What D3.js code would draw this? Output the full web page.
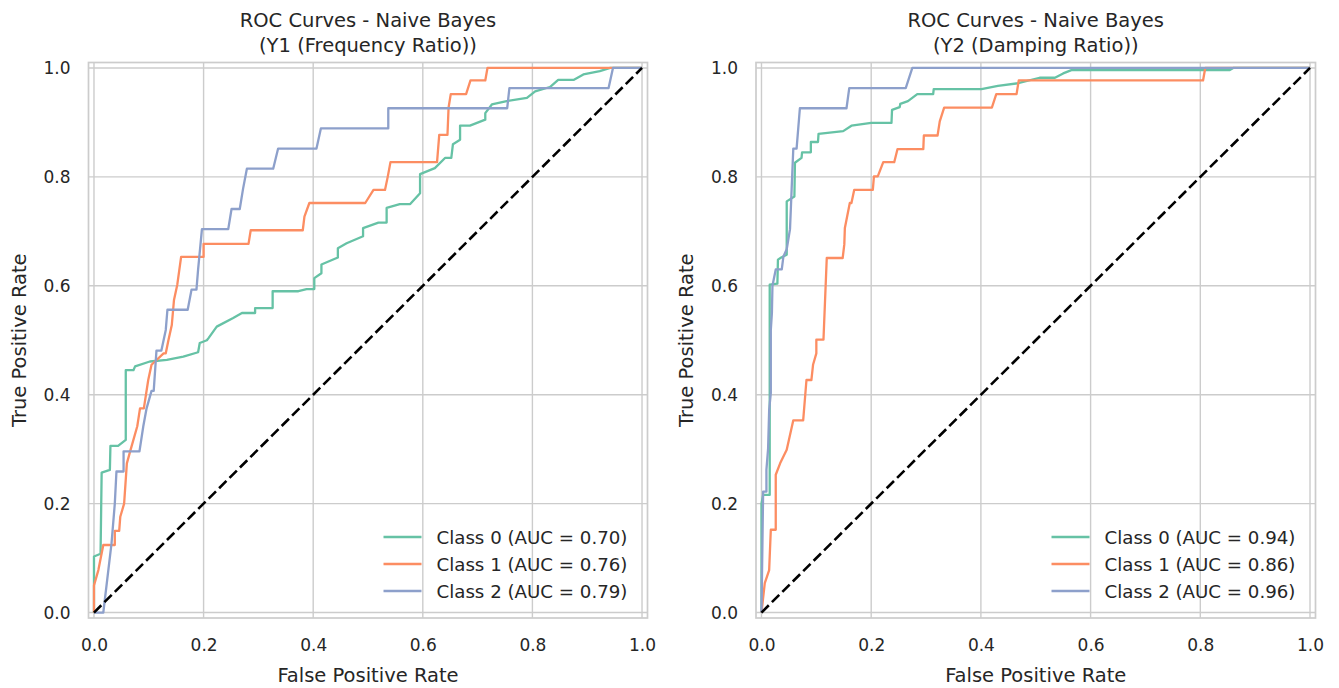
<!DOCTYPE html>
<html>
<head>
<meta charset="utf-8">
<script src="https://cdn.jsdelivr.net/npm/d3@7"></script>
<style>
  html, body { margin: 0; padding: 0; background: #ffffff; }
  svg { display: block; }
  text { font-family: "DejaVu Sans", sans-serif; fill: #262626; }
</style>
</head>
<body>
<svg id="chart" width="1339" height="688"></svg>
<script>
// ---------------- DATA ----------------
const tickValues = [0.0, 0.2, 0.4, 0.6, 0.8, 1.0];
const classNames = ["Class 0", "Class 1", "Class 2"];
const classColors = ["#66c2a5", "#fc8d62", "#8da0cb"];
const chartTitles = ["ROC Curves - Naive Bayes\n(Y1 (Frequency Ratio))", "ROC Curves - Naive Bayes\n(Y2 (Damping Ratio))"];
const y1Auc = [0.70, 0.76, 0.79];
const y2Auc = [0.94, 0.86, 0.96];

// Y1 (Frequency Ratio)
const y1Class0Fpr = [0, 0, 0.012, 0.014, 0.029, 0.030, 0.044, 0.058, 0.058, 0.072, 0.075, 0.102, 0.133, 0.163, 0.190, 0.193, 0.206, 0.209, 0.224, 0.254, 0.270, 0.294, 0.294, 0.326, 0.326, 0.373, 0.388, 0.402, 0.402, 0.415, 0.415, 0.445, 0.445, 0.461, 0.491, 0.491, 0.519, 0.534, 0.534, 0.558, 0.577, 0.595, 0.595, 0.622, 0.641, 0.652, 0.655, 0.668, 0.668, 0.686, 0.714, 0.714, 0.726, 0.753, 0.790, 0.805, 0.832, 0.847, 0.875, 0.893, 0.923, 0.942, 1.0];
const y1Class0Tpr = [0, 0.103, 0.108, 0.257, 0.262, 0.306, 0.306, 0.317, 0.445, 0.445, 0.452, 0.461, 0.464, 0.470, 0.478, 0.495, 0.500, 0.504, 0.525, 0.541, 0.550, 0.550, 0.559, 0.559, 0.590, 0.590, 0.594, 0.594, 0.614, 0.623, 0.639, 0.652, 0.669, 0.678, 0.691, 0.706, 0.716, 0.716, 0.743, 0.750, 0.750, 0.770, 0.805, 0.816, 0.835, 0.835, 0.860, 0.868, 0.894, 0.894, 0.905, 0.917, 0.933, 0.939, 0.945, 0.957, 0.965, 0.978, 0.978, 0.988, 0.994, 1.0, 1.0];
const y1Class1Fpr = [0, 0, 0.008, 0.017, 0.038, 0.038, 0.046, 0.048, 0.055, 0.060, 0.066, 0.079, 0.084, 0.091, 0.099, 0.105, 0.127, 0.131, 0.136, 0.142, 0.146, 0.152, 0.159, 0.200, 0.200, 0.282, 0.286, 0.381, 0.384, 0.393, 0.495, 0.510, 0.531, 0.536, 0.541, 0.626, 0.630, 0.645, 0.647, 0.651, 0.679, 0.687, 0.714, 0.718, 1.0];
const y1Class1Tpr = [0, 0.050, 0.078, 0.124, 0.124, 0.150, 0.150, 0.176, 0.200, 0.274, 0.296, 0.342, 0.375, 0.375, 0.427, 0.455, 0.476, 0.476, 0.501, 0.528, 0.574, 0.602, 0.653, 0.653, 0.677, 0.677, 0.702, 0.702, 0.727, 0.752, 0.752, 0.776, 0.776, 0.800, 0.827, 0.827, 0.877, 0.877, 0.927, 0.952, 0.952, 0.977, 0.977, 1.0, 1.0];
const y1Class2Fpr = [0, 0.017, 0.032, 0.038, 0.041, 0.054, 0.054, 0.083, 0.090, 0.096, 0.105, 0.109, 0.114, 0.123, 0.131, 0.134, 0.171, 0.178, 0.187, 0.190, 0.197, 0.245, 0.251, 0.266, 0.272, 0.279, 0.327, 0.336, 0.406, 0.414, 0.537, 0.537, 0.754, 0.758, 0.939, 0.947, 1.0];
const y1Class2Tpr = [0, 0, 0.127, 0.200, 0.259, 0.259, 0.296, 0.296, 0.342, 0.375, 0.407, 0.407, 0.481, 0.481, 0.519, 0.556, 0.556, 0.593, 0.593, 0.630, 0.704, 0.704, 0.741, 0.741, 0.778, 0.815, 0.815, 0.852, 0.852, 0.889, 0.889, 0.926, 0.926, 0.963, 0.963, 1.0, 1.0];

// Y2 (Damping Ratio)
const y2Class0Fpr = [0, 0, 0.003, 0.015, 0.015, 0.029, 0.030, 0.036, 0.046, 0.046, 0.060, 0.061, 0.073, 0.074, 0.090, 0.090, 0.103, 0.104, 0.149, 0.164, 0.200, 0.237, 0.238, 0.252, 0.253, 0.267, 0.284, 0.313, 0.314, 0.401, 0.431, 0.468, 0.507, 0.535, 0.550, 0.565, 0.853, 0.860, 1.0];
const y2Class0Tpr = [0, 0.200, 0.216, 0.216, 0.602, 0.604, 0.648, 0.652, 0.657, 0.755, 0.764, 0.826, 0.835, 0.845, 0.845, 0.864, 0.864, 0.879, 0.884, 0.894, 0.899, 0.899, 0.923, 0.928, 0.934, 0.939, 0.952, 0.952, 0.961, 0.961, 0.967, 0.972, 0.982, 0.982, 0.990, 0.996, 0.996, 1.0, 1.0];
const y2Class1Fpr = [0, 0.006, 0.014, 0.017, 0.026, 0.026, 0.034, 0.046, 0.058, 0.076, 0.082, 0.091, 0.094, 0.100, 0.100, 0.113, 0.119, 0.148, 0.151, 0.152, 0.161, 0.164, 0.169, 0.203, 0.205, 0.212, 0.222, 0.242, 0.248, 0.295, 0.296, 0.321, 0.325, 0.333, 0.420, 0.428, 0.465, 0.469, 0.805, 0.809, 1.0];
const y2Class1Tpr = [0, 0.054, 0.078, 0.152, 0.152, 0.253, 0.274, 0.299, 0.353, 0.353, 0.427, 0.427, 0.455, 0.476, 0.501, 0.501, 0.651, 0.651, 0.676, 0.706, 0.752, 0.752, 0.776, 0.776, 0.801, 0.801, 0.827, 0.827, 0.851, 0.851, 0.876, 0.876, 0.902, 0.927, 0.927, 0.952, 0.952, 0.977, 0.977, 1.0, 1.0];
const y2Class2Fpr = [0, 0.003, 0.009, 0.009, 0.012, 0.014, 0.017, 0.017, 0.019, 0.020, 0.026, 0.037, 0.040, 0.046, 0.052, 0.055, 0.058, 0.064, 0.070, 0.155, 0.160, 0.263, 0.275, 1.0];
const y2Class2Tpr = [0, 0.222, 0.222, 0.262, 0.300, 0.372, 0.403, 0.519, 0.550, 0.600, 0.630, 0.630, 0.654, 0.667, 0.704, 0.778, 0.852, 0.852, 0.926, 0.926, 0.963, 0.963, 1.0, 1.0];

// ---------------- BUILD ----------------
const zip = (a, b) => a.map((v, i) => [v, b[i]]);
const panels = [
  { title: chartTitles[0], auc: y1Auc, left: 88.5, right: 647.5,
    curves: [zip(y1Class0Fpr, y1Class0Tpr), zip(y1Class1Fpr, y1Class1Tpr), zip(y1Class2Fpr, y1Class2Tpr)] },
  { title: chartTitles[1], auc: y2Auc, left: 756, right: 1315.5,
    curves: [zip(y2Class0Fpr, y2Class0Tpr), zip(y2Class1Fpr, y2Class1Tpr), zip(y2Class2Fpr, y2Class2Tpr)] }
];
const plotTop = 62.5, plotBottom = 618;
const svg = d3.select("#chart");
const gridColor = "#cccccc";

panels.forEach(p => {
  const x = d3.scaleLinear().domain([-0.01, 1.01]).range([p.left, p.right]);
  const y = d3.scaleLinear().domain([-0.01, 1.01]).range([plotBottom, plotTop]);
  const g = svg.append("g");
  const cx = (p.left + p.right) / 2;

  // grid
  g.selectAll(".gx").data(tickValues).join("line")
    .attr("x1", d => x(d)).attr("x2", d => x(d)).attr("y1", plotTop).attr("y2", plotBottom)
    .attr("stroke", gridColor).attr("stroke-width", 1.4);
  g.selectAll(".gy").data(tickValues).join("line")
    .attr("y1", d => y(d)).attr("y2", d => y(d)).attr("x1", p.left).attr("x2", p.right)
    .attr("stroke", gridColor).attr("stroke-width", 1.4);

  // spines
  g.append("rect").attr("x", p.left).attr("y", plotTop)
    .attr("width", p.right - p.left).attr("height", plotBottom - plotTop)
    .attr("fill", "none").attr("stroke", gridColor).attr("stroke-width", 1.7);

  // axes
  const xAxis = g.append("g").attr("transform", `translate(0,${plotBottom})`)
    .call(d3.axisBottom(x).tickValues(tickValues).tickSize(0).tickPadding(21).tickFormat(d3.format(".1f")));
  const yAxis = g.append("g").attr("transform", `translate(${p.left},0)`)
    .call(d3.axisLeft(y).tickValues(tickValues).tickSize(0).tickPadding(18).tickFormat(d3.format(".1f")));
  [xAxis, yAxis].forEach(a => {
    a.select(".domain").remove();
    a.selectAll("text").attr("font-family", "DejaVu Sans").attr("font-size", 17).attr("fill", "#262626");
  });

  // curves
  const line = d3.line().x(d => x(d[0])).y(d => y(d[1]));
  p.curves.forEach((c, i) => {
    g.append("path").datum(c).attr("d", line)
      .attr("fill", "none").attr("stroke", classColors[i]).attr("stroke-width", 2.3)
      .attr("stroke-linejoin", "round");
  });

  // diagonal
  g.append("path").datum([[0, 0], [1, 1]]).attr("d", line)
    .attr("fill", "none").attr("stroke", "#000").attr("stroke-width", 2.6)
    .attr("stroke-dasharray", "10.3,4.4");

  // titles
  const tl = p.title.split("\n");
  g.append("text").attr("x", cx).attr("y", 27).attr("text-anchor", "middle").attr("font-size", 19.5).text(tl[0]);
  g.append("text").attr("x", cx).attr("y", 52).attr("text-anchor", "middle").attr("font-size", 19.5).text(tl[1]);

  // axis labels
  g.append("text").attr("x", cx).attr("y", 682).attr("text-anchor", "middle").attr("font-size", 19.5)
    .text("False Positive Rate");
  g.append("text").attr("transform", `translate(${p.left - 63},${(plotTop + plotBottom) / 2}) rotate(-90)`)
    .attr("text-anchor", "middle").attr("font-size", 19.5).text("True Positive Rate");

  // legend
  const rowY = [537, 564, 591];
  classNames.forEach((name, i) => {
    g.append("line").attr("x1", p.right - 264).attr("x2", p.right - 226)
      .attr("y1", rowY[i]).attr("y2", rowY[i])
      .attr("stroke", classColors[i]).attr("stroke-width", 2.3);
    g.append("text").attr("x", p.right - 211).attr("y", rowY[i]).attr("dy", "0.36em")
      .attr("font-size", 18.2).text(`${name} (AUC = ${p.auc[i].toFixed(2)})`);
  });
});
</script>
</body>
</html>
